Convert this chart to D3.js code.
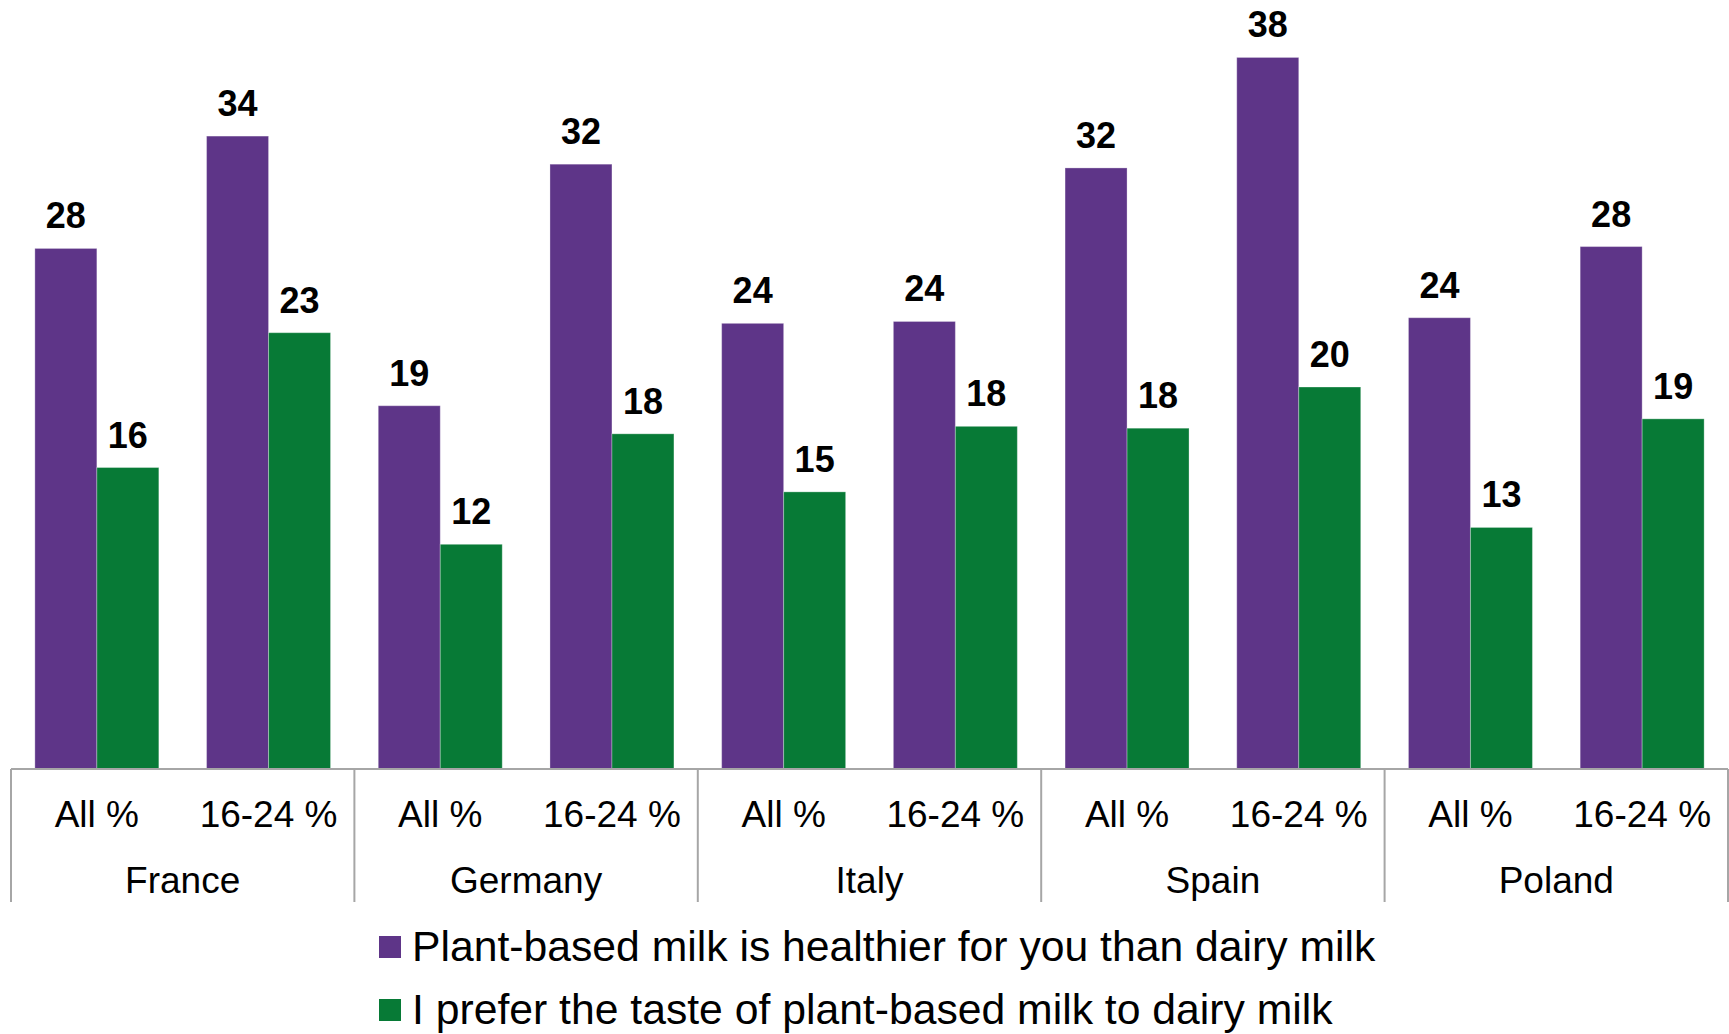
<html>
<head>
<meta charset="utf-8">
<title>Plant-based milk</title>
<style>
  body { margin: 0; background: #fff; }
  text { font-family: "Liberation Sans", Arial, sans-serif; }
</style>
</head>
<body>
<svg width="1729" height="1034"></svg>
<script src="https://d3js.org/d3.v7.min.js"></script>
<script>
// data (bar heights, labels are the rounded values)
var countries = ['France', 'Germany', 'Italy', 'Spain', 'Poland'];
var ages = ['All %', '16-24 %'];
var healthier = [27.8, 33.8, 19.4, 32.3, 23.8, 23.9, 32.1, 38.0, 24.1, 27.9];
var taste = [16.1, 23.3, 12.0, 17.9, 14.8, 18.3, 18.2, 20.4, 12.9, 18.7];
var seriesNames = ['Plant-based milk is healthier for you than dairy milk',
                   'I prefer the taste of plant-based milk to dairy milk'];
var seriesColors = ['#5E3588', '#077A36'];

var svg = d3.select('svg');

var left = 11, right = 1728, base = 769;

// flat list of sub categories
var cats = [];
for (var i = 0; i < countries.length; i++) {
  for (var j = 0; j < ages.length; j++) {
    cats.push({country: countries[i], age: ages[j], k: i * 2 + j,
               vals: [healthier[i * 2 + j], taste[i * 2 + j]]});
  }
}

var xCountry = d3.scaleBand().domain(countries).range([left, right]);
var xCat = d3.scaleBand().domain(cats.map(function(d){ return d.k; }))
  .range([left, right]).paddingInner(0.278).paddingOuter(0.139);
var xSer = d3.scaleBand().domain([0, 1]).range([0, xCat.bandwidth()]);
var y = d3.scaleLinear().domain([0, 40]).range([base, base - 749]);
var fmt = d3.format('.0f');

var g = svg.selectAll('g.cat')
  .data(cats)
  .enter()
  .append('g')
  .attr('class', 'cat')
  .attr('transform', function(d){ return 'translate(' + xCat(d.k) + ',0)'; });

g.selectAll('rect')
  .data(function(d){ return d.vals; })
  .enter()
  .append('rect')
  .attr('x', function(d, i){ return xSer(i); })
  .attr('width', xSer.bandwidth())
  .attr('y', function(d){ return y(d); })
  .attr('height', function(d){ return base - y(d); })
  .attr('fill', function(d, i){ return seriesColors[i]; })
  .style('stroke', '#fff')
  .style('stroke-opacity', 0.3)
  .style('stroke-width', 1);

g.selectAll('text.val')
  .data(function(d){ return d.vals; })
  .enter()
  .append('text')
  .attr('class', 'val')
  .text(function(d){ return fmt(d); })
  .attr('x', function(d, i){ return xSer(i) + xSer.bandwidth() / 2; })
  .attr('y', function(d){ return y(d) - 20; })
  .attr('text-anchor', 'middle')
  .attr('font-size', '36px')
  .attr('font-weight', 'bold')
  .attr('fill', '#000');

// category axis
svg.append('line')
  .attr('x1', left).attr('x2', right)
  .attr('y1', base).attr('y2', base)
  .attr('style', 'stroke:#A6A6A6;stroke-width:2');

var seps = countries.map(function(c){ return xCountry(c); }).concat([right]);
svg.selectAll('line.sep')
  .data(seps)
  .enter()
  .append('line')
  .attr('class', 'sep')
  .attr('x1', function(d){ return d; })
  .attr('x2', function(d){ return d; })
  .attr('y1', base)
  .attr('y2', 902)
  .attr('style', 'stroke:#A6A6A6;stroke-width:2');

svg.selectAll('text.age')
  .data(cats)
  .enter()
  .append('text')
  .attr('class', 'age')
  .text(function(d){ return d.age; })
  .attr('x', function(d){ return xCat(d.k) + xCat.bandwidth() / 2; })
  .attr('y', 827)
  .attr('text-anchor', 'middle')
  .attr('font-size', '37px')
  .attr('fill', '#000');

svg.selectAll('text.country')
  .data(countries)
  .enter()
  .append('text')
  .attr('class', 'country')
  .text(function(d){ return d; })
  .attr('x', function(d){ return xCountry(d) + xCountry.bandwidth() / 2; })
  .attr('y', 893)
  .attr('text-anchor', 'middle')
  .attr('font-size', '37px')
  .attr('fill', '#000');

// legend
var leg = svg.selectAll('g.leg')
  .data(seriesNames)
  .enter()
  .append('g')
  .attr('class', 'leg')
  .attr('transform', function(d, i){ return 'translate(379,' + (936 + i * 63) + ')'; });

leg.append('rect')
  .attr('width', 22)
  .attr('height', 22)
  .attr('fill', function(d, i){ return seriesColors[i]; });

leg.append('text')
  .text(function(d){ return d; })
  .attr('x', 33)
  .attr('y', 25)
  .attr('font-size', '42.7px')
  .attr('fill', '#000');
</script>
</body>
</html>
